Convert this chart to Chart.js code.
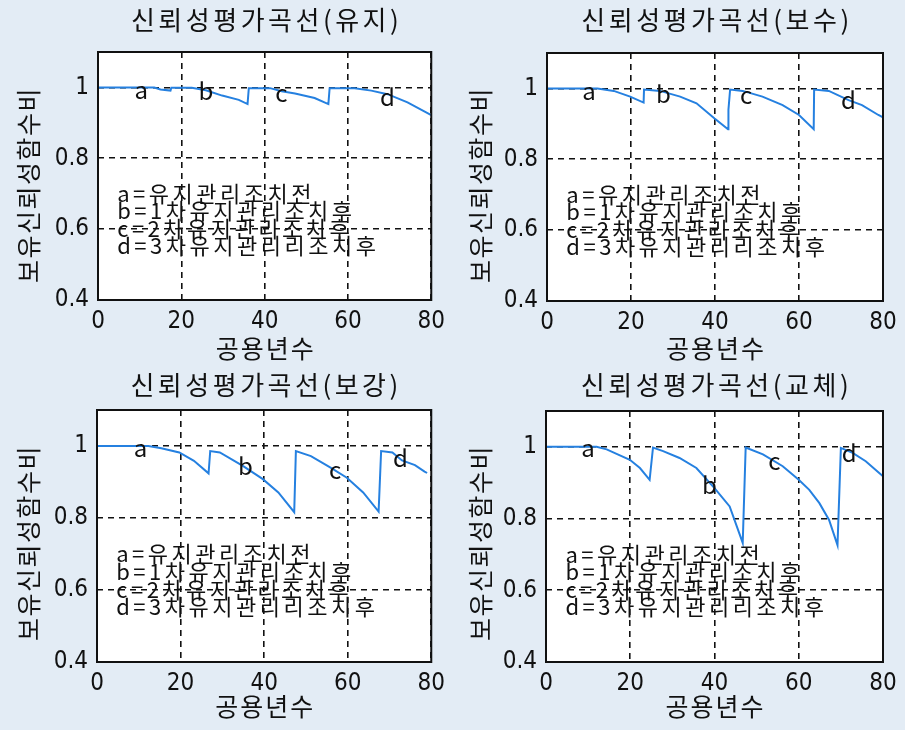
<!DOCTYPE html>
<html>
<head>
<meta charset="utf-8">
<script src="https://cdn.jsdelivr.net/npm/chart.js@4.4.1/dist/chart.umd.min.js"></script>
<style>
  html, body { margin: 0; padding: 0; width: 905px; height: 730px; overflow: hidden; background: #e3ecf5; }
  canvas { position: absolute; }
</style>
</head>
<body>
<canvas id="c1" width="452" height="365" style="left:0;top:0"></canvas>
<canvas id="c2" width="453" height="365" style="left:452px;top:0"></canvas>
<canvas id="c3" width="452" height="365" style="left:0;top:365px"></canvas>
<canvas id="c4" width="453" height="365" style="left:452px;top:365px"></canvas>
<script>
// ---- data: service years vs. retained reliability ratio ----
const xTicks = [0, 20, 40, 60, 80];
const yTicks = [0.4, 0.6, 0.8, 1];

const titles = ['신뢰성평가곡선(유지)', '신뢰성평가곡선(보수)', '신뢰성평가곡선(보강)', '신뢰성평가곡선(교체)'];
const xTitle = '공용년수';
const yTitle = '보유신뢰성함수비';
const legendLines = ['a=유지관리조치전', 'b=1차유지관리조치후', 'c=2차유지관리조치후', 'd=3차유지관리리조치후'];
const stageLetters = ['a', 'b', 'c', 'd'];

// 유지 (maintenance)
const yearsKeep = [0, 13.5, 15, 17.4, 17.6, 22.5, 25.9, 29.8, 33.8, 35.9, 36.2, 41.3, 44.1, 47.3, 52, 55.3, 55.6, 61.6, 65.6, 69.5, 74.3, 80];
const relKeep   = [1, 1, 0.994, 0.991, 0.999, 0.999, 0.992, 0.977, 0.965, 0.953, 0.998, 0.998, 0.989, 0.983, 0.970, 0.953, 0.998, 0.998, 0.991, 0.981, 0.958, 0.922];
// 보수 (repair)
const yearsRepair = [0, 12, 15.9, 19.8, 23, 23.1, 26.9, 31.7, 35.6, 39.9, 43.1, 43.2, 43.6, 46.6, 51.3, 56.1, 60, 63.5, 63.6, 67.1, 71.8, 75, 78.9, 80];
const relRepair   = [1, 1, 0.993, 0.977, 0.960, 0.997, 0.993, 0.977, 0.958, 0.915, 0.885, 0.940, 0.997, 0.993, 0.977, 0.953, 0.925, 0.885, 0.997, 0.993, 0.967, 0.953, 0.925, 0.918];
// 보강 (strengthening)
const yearsStrength = [0, 12.3, 15.4, 19.7, 23.2, 26.7, 27.1, 29.4, 34.9, 39.7, 43.4, 47.2, 47.6, 51.2, 55.9, 59.8, 63.7, 67.4, 68, 70.7, 73, 76.1, 78.4, 79];
const relStrength   = [1, 1, 0.994, 0.982, 0.959, 0.924, 0.986, 0.982, 0.945, 0.908, 0.871, 0.816, 0.986, 0.972, 0.940, 0.912, 0.871, 0.818, 0.986, 0.982, 0.960, 0.947, 0.929, 0.925];
// 교체 (replacement)
const yearsReplace = [0, 12, 14.4, 19.9, 22.3, 24.6, 25.4, 27.8, 31.7, 35.7, 40, 43.6, 46.7, 47.4, 51.5, 56.2, 60, 62.5, 64.9, 67.2, 69.2, 70, 72.8, 75.9, 79.1, 80];
const relReplace   = [1, 1, 0.993, 0.964, 0.941, 0.908, 0.998, 0.988, 0.969, 0.941, 0.885, 0.834, 0.732, 0.998, 0.979, 0.946, 0.908, 0.880, 0.843, 0.796, 0.726, 0.997, 0.983, 0.960, 0.927, 0.918];

// where the stage letters sit on each curve
const letterX = [[10.4, 25.9, 44, 69.5], [10, 27.7, 47.4, 71.8], [10.4, 35.5, 57, 72.6], [10, 38.8, 54.2, 72]];
const letterY = [[0.993, 0.989, 0.986, 0.972], [0.994, 0.984, 0.981, 0.969], [0.995, 0.945, 0.935, 0.966], [0.996, 0.894, 0.960, 0.983]];
const legendY = [0.70, 0.651, 0.602, 0.553];
const legendX = 4.6;

const series = [
  [yearsKeep, relKeep],
  [yearsRepair, relRepair],
  [yearsStrength, relStrength],
  [yearsReplace, relReplace]
];

// plot-area placement inside each canvas: left, top, right, bottom
const boxes = [
  { id: 'c1', l: 98, t: 52, r: 439, b: 300, xt: 348, yc: 186 },
  { id: 'c2', l: 95, t: 53, r: 431, b: 301, xt: 348, yc: 186 },
  { id: 'c3', l: 97, t: 45, r: 438, b: 297, xt: 341, yc: 179 },
  { id: 'c4', l: 94, t: 46, r: 431, b: 297, xt: 341, yc: 179 }
];

const KR = "'Noto Sans CJK KR', sans-serif";
const NUM = "'Liberation Sans Narrow', 'DejaVu Sans Condensed', 'Liberation Sans', sans-serif";
const INK = '#111111';

const panelText = {
  id: 'panelText',
  beforeDraw(chart) {
    const ctx = chart.ctx;
    const a = chart.chartArea;
    ctx.save();
    ctx.fillStyle = '#ffffff';
    ctx.fillRect(a.left, a.top, a.right - a.left, a.bottom - a.top);
    ctx.restore();
  },
  afterDatasetsDraw(chart, args, o) {
    const ctx = chart.ctx;
    const a = chart.chartArea;
    const xs = chart.scales.x, ys = chart.scales.y;
    ctx.save();
    ctx.fillStyle = INK;
    ctx.textBaseline = 'middle';
    // legend block
    ctx.font = '22px ' + KR;
    ctx.letterSpacing = '3.5px';
    ctx.textAlign = 'left';
    legendLines.forEach((s, i) => ctx.fillText(s, xs.getPixelForValue(legendX), ys.getPixelForValue(legendY[i])));
    // stage letters on the curve
    ctx.font = '24px ' + KR;
    ctx.letterSpacing = '0px';
    ctx.textAlign = 'center';
    stageLetters.forEach((s, i) => ctx.fillText(s, xs.getPixelForValue(o.lx[i]), ys.getPixelForValue(o.ly[i])));
    // frame
    ctx.strokeStyle = '#111';
    ctx.lineWidth = 2;
    ctx.strokeRect(a.left, a.top, a.right - a.left, a.bottom - a.top);
    ctx.restore();
  },
  afterDraw(chart, args, o) {
    const ctx = chart.ctx;
    const a = chart.chartArea;
    const cx = (a.left + a.right) / 2;
    ctx.save();
    ctx.fillStyle = INK;
    ctx.textBaseline = 'middle';
    ctx.textAlign = 'center';
    ctx.font = '26px ' + KR;
    ctx.letterSpacing = '3.5px';
    ctx.fillText(o.title, cx + 2, 20);
    ctx.font = '25px ' + KR;
    ctx.letterSpacing = '2px';
    ctx.fillText(xTitle, cx + 1, o.xt);
    ctx.translate(28, o.yc);
    ctx.rotate(-Math.PI / 2);
    ctx.letterSpacing = '1.5px';
    ctx.fillText(yTitle, 1, 0);
    ctx.restore();
  }
};

boxes.forEach((bx, k) => {
  const cv = document.getElementById(bx.id);
  const W = cv.width, H = cv.height;
  const [xv, yv] = series[k];
  new Chart(cv, {
    type: 'line',
    data: {
      datasets: [{
        data: xv.map((x, i) => ({ x: x, y: yv[i] })),
        borderColor: '#2580e0',
        borderWidth: 2,
        pointRadius: 0,
        tension: 0,
        fill: false
      }]
    },
    options: {
      responsive: false,
      animation: false,
      devicePixelRatio: 1,
      layout: { padding: { left: 0, top: bx.t, right: W - bx.r, bottom: 0 } },
      plugins: {
        legend: { display: false },
        tooltip: { enabled: false },
        panelText: { title: titles[k], lx: letterX[k], ly: letterY[k], xt: bx.xt, yc: bx.yc }
      },
      scales: {
        x: {
          type: 'linear',
          min: xTicks[0],
          max: xTicks[xTicks.length - 1],
          afterBuildTicks: s => { s.ticks = xTicks.map(v => ({ value: v })); },
          afterFit: s => { s.height = H - bx.b; },
          grid: { color: '#111', lineWidth: 1.6, drawTicks: false },
          border: { display: false, dash: [6, 5] },
          ticks: { color: INK, font: { family: NUM, size: 24 }, padding: 7, maxRotation: 0, callback: v => String(v) }
        },
        y: {
          type: 'linear',
          min: 0.4,
          max: 1.1,
          afterBuildTicks: s => { s.ticks = yTicks.map(v => ({ value: v })); },
          afterFit: s => { s.width = bx.l; },
          grid: { color: '#111', lineWidth: 1.6, drawTicks: false },
          border: { display: false, dash: [6, 5] },
          ticks: { color: INK, font: { family: NUM, size: 24 }, padding: 9, callback: v => String(+v.toFixed(2)) }
        }
      }
    },
    plugins: [panelText]
  });
});
</script>
</body>
</html>
